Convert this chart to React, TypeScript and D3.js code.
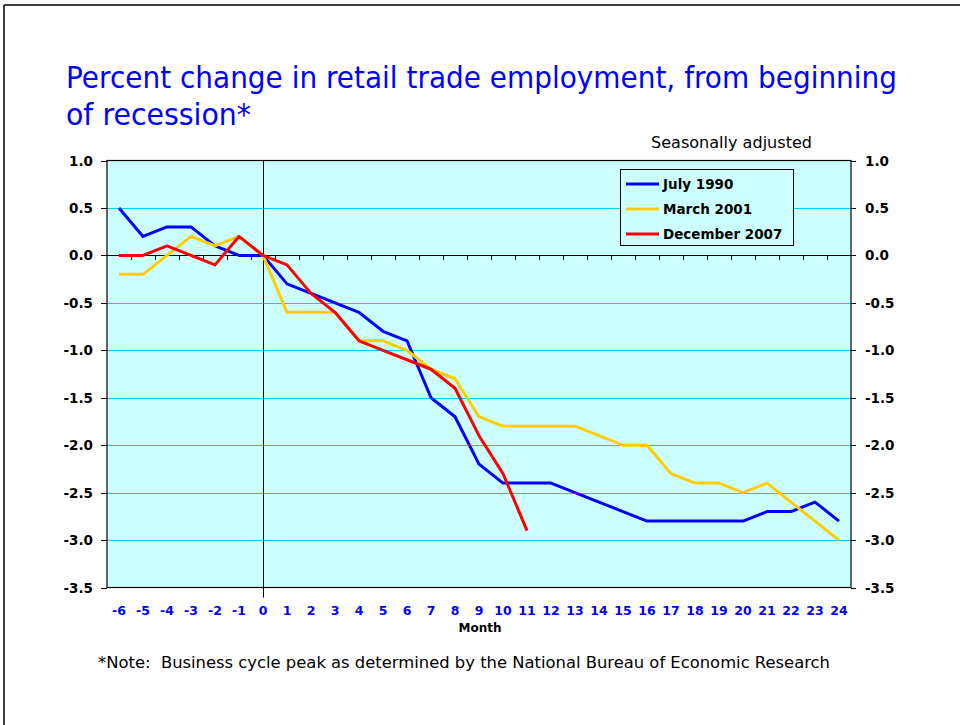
import React from "react";
import * as d3 from "d3";

const months: number[] = [-6,-5,-4,-3,-2,-1,0,1,2,3,4,5,6,7,8,9,10,11,12,13,14,15,16,17,18,19,20,21,22,23,24];
const july1990: number[] = [0.5,0.2,0.3,0.3,0.1,0.0,0.0,-0.3,-0.4,-0.5,-0.6,-0.8,-0.9,-1.5,-1.7,-2.2,-2.4,-2.4,-2.4,-2.5,-2.6,-2.7,-2.8,-2.8,-2.8,-2.8,-2.8,-2.7,-2.7,-2.6,-2.8];
const march2001: number[] = [-0.2,-0.2,0.0,0.2,0.1,0.2,0.0,-0.6,-0.6,-0.6,-0.9,-0.9,-1.0,-1.2,-1.3,-1.7,-1.8,-1.8,-1.8,-1.8,-1.9,-2.0,-2.0,-2.3,-2.4,-2.4,-2.5,-2.4,-2.6,-2.8,-3.0];
const december2007: number[] = [0.0,0.0,0.1,0.0,-0.1,0.2,0.0,-0.1,-0.4,-0.6,-0.9,-1.0,-1.1,-1.2,-1.4,-1.9,-2.3,-2.9];
const yTicks: number[] = [1.0,0.5,0.0,-0.5,-1.0,-1.5,-2.0,-2.5,-3.0,-3.5];
const seriesNames: string[] = ["July 1990", "March 2001", "December 2007"];
const seriesColors: string[] = ["#0000FF", "#FFCC00", "#FF0000"];

const titleLine1 = "Percent change in retail trade employment, from beginning";
const titleLine2 = "of recession*";
const subtitle = "Seasonally adjusted";
const note = "*Note:  Business cycle peak as determined by the National Bureau of Economic Research";
const xTitle = "Month";

export default function App() {
  const W = 960, H = 725;
  const L = 107, R = 851, T = 160.5, B = 587.5;
  const x = d3.scaleBand<number>().domain(months).range([L, R]).paddingInner(0).paddingOuter(0);
  const bw = x.bandwidth();
  const cx = (m: number) => (x(m) as number) + bw / 2;
  const y = d3.scaleLinear().domain([-3.5, 1]).range([B, T]);
  const series = [july1990, march2001, december2007];
  const line = d3.line<number>().x((_, i) => cx(months[i])).y((v) => y(v));
  const y0 = y(0);
  const font = "'DejaVu Sans', Verdana, sans-serif";

  return (
    <svg width={W} height={H} style={{ position: "absolute", left: 0, top: 0 }} fontFamily={font}>
      <rect x={0} y={0} width={W} height={H} fill="#fff" />
      <line x1={4} y1={5} x2={W} y2={5} stroke="#000" strokeWidth={1.5} />
      <line x1={4} y1={5} x2={4} y2={H} stroke="#000" strokeWidth={1.5} />

      <text x={66} y={88} fontSize={30} fill="#0000FF" textLength={831} lengthAdjust="spacingAndGlyphs">{titleLine1}</text>
      <text x={66} y={125} fontSize={30} fill="#0000FF" textLength={185} lengthAdjust="spacingAndGlyphs">{titleLine2}</text>
      <text x={812} y={148} fontSize={15.5} fill="#000" textAnchor="end" textLength={161} lengthAdjust="spacingAndGlyphs">{subtitle}</text>

      <rect x={L} y={T} width={R - L} height={B - T} fill="#CCFFFF" />
      {yTicks.filter((t) => t !== 0 && t !== 1 && t !== -3.5).map((t) => (
        <line key={"g" + t} x1={L} x2={R} y1={Math.round(y(t)) + 0.5} y2={Math.round(y(t)) + 0.5} stroke="#00CCFF" strokeWidth={1} />
      ))}
      <line x1={L} x2={R} y1={Math.round(y0) + 0.5} y2={Math.round(y0) + 0.5} stroke="#000" strokeWidth={1} />
      {months.slice(1).map((m) => (
        <line key={"xt" + m} x1={Math.round(x(m) as number) + 0.5} x2={Math.round(x(m) as number) + 0.5} y1={Math.round(y0)} y2={Math.round(y0) + 5} stroke="#000" strokeWidth={1} />
      ))}
      <line x1={Math.round(cx(0)) + 0.5} x2={Math.round(cx(0)) + 0.5} y1={T} y2={B + 10} stroke="#000" strokeWidth={1} />
      <rect x={L} y={T} width={R - L} height={B - T} fill="none" stroke="#000" strokeWidth={1.2} />

      {yTicks.map((t) => (
        <g key={"yt" + t}>
          <line x1={L - 6} x2={L} y1={Math.round(y(t)) + 0.5} y2={Math.round(y(t)) + 0.5} stroke="#000" strokeWidth={1} />
          <line x1={R} x2={R + 5} y1={Math.round(y(t)) + 0.5} y2={Math.round(y(t)) + 0.5} stroke="#000" strokeWidth={1} />
          <text x={93} y={y(t) + 5} fontSize={13.5} fontWeight="bold" textAnchor="end" fill="#000">{t.toFixed(1)}</text>
          <text x={865} y={y(t) + 5} fontSize={13.5} fontWeight="bold" textAnchor="start" fill="#000">{t.toFixed(1)}</text>
        </g>
      ))}

      {months.map((m) => (
        <text key={"xl" + m} x={cx(m)} y={615} fontSize={12.5} fontWeight="bold" textAnchor="middle" fill="#0000FF">{String(m)}</text>
      ))}
      <text x={480} y={632} fontSize={12} fontWeight="bold" textAnchor="middle" fill="#000">{xTitle}</text>

      {series.map((s, i) => (
        <path key={"s" + i} d={line(s) || ""} fill="none" stroke={seriesColors[i]} strokeWidth={3} strokeLinejoin="round" />
      ))}

      <rect x={620.5} y={169.5} width={173} height={76} fill="#CCFFFF" stroke="#000" strokeWidth={1} />
      {seriesNames.map((n, i) => (
        <g key={"lg" + i}>
          <line x1={626} x2={659} y1={184 + i * 25} y2={184 + i * 25} stroke={seriesColors[i]} strokeWidth={3} />
          <text x={663} y={189 + i * 25} fontSize={13.5} fontWeight="bold" fill="#000">{n}</text>
        </g>
      ))}

      <text x={98} y={668} fontSize={15.5} fill="#000" textLength={732} lengthAdjust="spacingAndGlyphs" xmlSpace="preserve">{note}</text>
    </svg>
  );
}
